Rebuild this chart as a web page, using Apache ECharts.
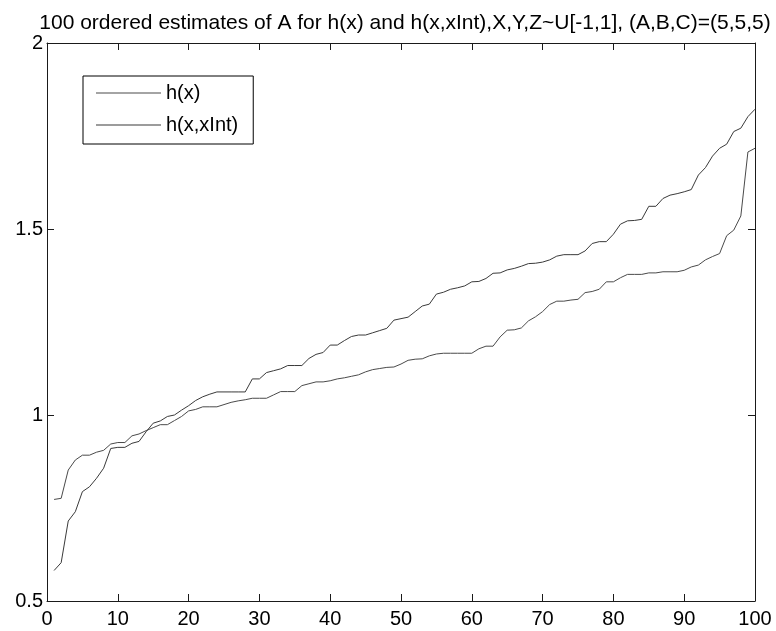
<!DOCTYPE html>
<html>
<head>
<meta charset="utf-8">
<script src="https://cdn.jsdelivr.net/npm/echarts@6/dist/echarts.min.js"></script>
<style>html,body{margin:0;padding:0;background:#fff;}#c{width:776px;height:631px;}</style>
</head>
<body>
<div id="c"></div>
<script>
const titleText = '100 ordered estimates of A for h(x) and h(x,xInt),X,Y,Z~U[-1,1], (A,B,C)=(5,5,5)';
const seriesNames = ['h(x)', 'h(x,xInt)'];
const xTicks = [0, 10, 20, 30, 40, 50, 60, 70, 80, 90, 100];
const yTicks = [0.5, 1, 1.5, 2];

const hX = [0.773,0.776,0.852,0.879,0.892,0.892,0.900,0.905,0.922,0.926,
0.926,0.944,0.949,0.958,0.966,0.974,0.974,0.985,0.996,1.011,
1.015,1.022,1.022,1.022,1.028,1.034,1.038,1.041,1.045,1.045,
1.045,1.054,1.063,1.063,1.063,1.079,1.084,1.089,1.089,1.092,
1.097,1.100,1.104,1.108,1.116,1.122,1.125,1.128,1.129,1.137,
1.147,1.150,1.151,1.159,1.164,1.166,1.166,1.166,1.166,1.166,
1.178,1.185,1.185,1.210,1.228,1.229,1.234,1.253,1.264,1.278,
1.297,1.306,1.306,1.309,1.311,1.329,1.332,1.338,1.358,1.358,
1.369,1.378,1.378,1.378,1.382,1.382,1.385,1.385,1.385,1.389,
1.398,1.403,1.417,1.426,1.434,1.482,1.497,1.535,1.707,1.717];

const hXInt = [0.582,0.603,0.715,0.740,0.794,0.807,0.830,0.857,0.910,0.913,
0.913,0.924,0.929,0.955,0.978,0.984,0.996,1.000,1.013,1.025,
1.039,1.049,1.056,1.062,1.062,1.062,1.062,1.062,1.097,1.097,
1.114,1.119,1.124,1.133,1.133,1.133,1.152,1.163,1.168,1.188,
1.188,1.200,1.211,1.215,1.215,1.221,1.227,1.233,1.255,1.259,
1.263,1.278,1.293,1.298,1.325,1.330,1.338,1.342,1.347,1.358,
1.359,1.367,1.381,1.382,1.390,1.394,1.400,1.407,1.408,1.411,
1.417,1.427,1.431,1.431,1.431,1.441,1.461,1.466,1.466,1.486,
1.513,1.522,1.523,1.526,1.561,1.561,1.582,1.591,1.595,1.600,
1.606,1.645,1.665,1.696,1.717,1.728,1.762,1.771,1.802,1.822];

const pairs = arr => arr.map((v, k) => [k + 1, v]);
const FONT = '"Liberation Sans", Arial, sans-serif';
const AX = '#1a1a1a';
const C1 = '#4a4a4a', C2 = '#3a3a3a';

const chart = echarts.init(document.getElementById('c'), null, {renderer: 'canvas'});

const xBase = {
  type: 'value', min: xTicks[0], max: xTicks[xTicks.length - 1], interval: 10,
  axisLine: {show: true, onZero: false, lineStyle: {color: AX, width: 1}},
  axisTick: {show: true, inside: true, length: 7, lineStyle: {color: AX}},
  splitLine: {show: false}
};
const yBase = {
  type: 'value', min: yTicks[0], max: yTicks[yTicks.length - 1], interval: 0.5,
  axisLine: {show: true, onZero: false, lineStyle: {color: AX, width: 1}},
  axisTick: {show: true, inside: true, length: 7, lineStyle: {color: AX}},
  splitLine: {show: false}
};

chart.setOption({
  animation: false,
  backgroundColor: '#ffffff',
  title: {
    text: titleText,
    left: 400, top: 8, textAlign: 'center',
    textStyle: {fontFamily: FONT, fontSize: 21, fontWeight: 'normal', color: '#000'}
  },
  grid: {left: 47, right: 21, top: 43, bottom: 30, containLabel: false},
  legend: {
    orient: 'vertical', left: 83, top: 76,
    padding: [7, 15, 9, 13],
    icon: 'rect',
    itemWidth: 65, itemHeight: 1, itemGap: 12,
    borderColor: '#000', borderWidth: 1, backgroundColor: '#fff',
    textStyle: {fontFamily: FONT, fontSize: 20, color: '#000', lineHeight: 20},
    data: seriesNames
  },
  xAxis: [
    Object.assign({}, xBase, {position: 'bottom',
      axisLabel: {show: true, margin: 8, fontFamily: FONT, fontSize: 20, color: '#000',
        formatter: v => String(v)}}),
    Object.assign({}, xBase, {position: 'top', axisLabel: {show: false}})
  ],
  yAxis: [
    Object.assign({}, yBase, {position: 'left',
      axisLabel: {show: true, margin: 4, fontFamily: FONT, fontSize: 20, color: '#000',
        formatter: v => String(v)}}),
    Object.assign({}, yBase, {position: 'right', axisLabel: {show: false}})
  ],
  series: [
    {name: seriesNames[0], type: 'line', data: pairs(hX), xAxisIndex: 0, yAxisIndex: 0,
     symbol: 'none', lineStyle: {color: C1, width: 1}, itemStyle: {color: C1}},
    {name: seriesNames[1], type: 'line', data: pairs(hXInt), xAxisIndex: 0, yAxisIndex: 0,
     symbol: 'none', lineStyle: {color: C2, width: 1}, itemStyle: {color: C2}}
  ]
});
</script>
</body>
</html>
